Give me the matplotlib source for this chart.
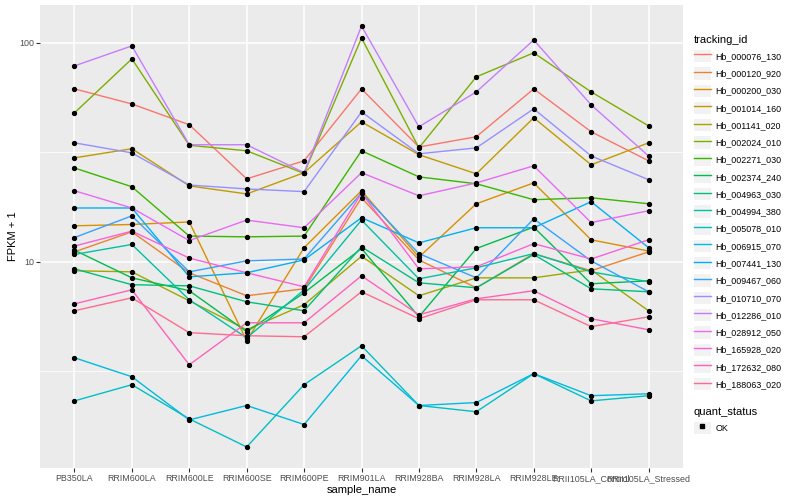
import numpy as np
import matplotlib
matplotlib.use('Agg')
import matplotlib.pyplot as plt
from matplotlib.lines import Line2D
from matplotlib.patches import Patch
from matplotlib.legend_handler import HandlerTuple
from matplotlib.ticker import FixedLocator, NullFormatter

plt.rcParams['font.family'] = ['Liberation Sans', 'DejaVu Sans']

samples = ['PB350LA', 'RRIM600LA', 'RRIM600LE', 'RRIM600SE', 'RRIM600PE',
           'RRIM901LA', 'RRIM928BA', 'RRIM928LA', 'RRIM928LE',
           'RRII105LA_Control', 'RRII105LA_Stressed']

gene_ids = ['Hb_000076_130', 'Hb_000120_920', 'Hb_000200_030', 'Hb_001014_160',
            'Hb_001141_020', 'Hb_002024_010', 'Hb_002271_030', 'Hb_002374_240',
            'Hb_004963_030', 'Hb_004994_380', 'Hb_005078_010', 'Hb_006915_070',
            'Hb_007441_130', 'Hb_009467_060', 'Hb_010710_070', 'Hb_012286_010',
            'Hb_028912_050', 'Hb_165928_020', 'Hb_172632_080', 'Hb_188063_020']

# ggplot default hue palette, 20 levels
colors = ['#F8766D', '#EA8331', '#D89000', '#C09B00', '#A3A500', '#7CAE00',
          '#39B600', '#00BB4E', '#00BF7D', '#00C1A3', '#00BFC4', '#00BAE0',
          '#00B0F6', '#35A2FF', '#9590FF', '#C77CFF', '#E76BF3', '#FA62DB',
          '#FF62BC', '#FF6C91']

# FPKM + 1 per sample
hb_000076_130 = [61.5, 52.5, 42.2, 23.9, 28.9, 61.5, 33.4, 37.2, 61.5, 39.2, 28.9]
hb_000120_920 = [11.1, 13.7, 8.91, 7.00, 7.53, 19.6, 10.2, 7.61, 10.9, 9.10, 11.1]
hb_000200_030 = [14.6, 14.8, 15.2, 4.36, 11.6, 21.1, 10.5, 18.4, 22.9, 12.6, 11.2]
hb_001014_160 = [29.8, 32.8, 22.2, 20.4, 25.5, 43.5, 30.8, 25.2, 45.4, 27.7, 34.9]
hb_001141_020 = [9.10, 9.00, 6.64, 4.90, 6.37, 10.6, 7.00, 8.45, 8.45, 9.19, 5.98]
hb_002024_010 = [47.8, 84.3, 34.0, 32.1, 25.3, 105.0, 33.1, 69.8, 89.8, 59.6, 41.7]
hb_002271_030 = [26.8, 22.0, 13.1, 13.0, 13.1, 32.1, 24.4, 22.7, 19.2, 19.6, 18.4]
hb_002374_240 = [11.3, 8.45, 7.38, 4.80, 7.22, 11.5, 5.61, 11.5, 14.4, 7.94, 8.19]
hb_004963_030 = [9.29, 7.86, 7.77, 6.57, 5.98, 11.7, 8.02, 7.61, 10.8, 7.53, 7.30]
hb_004994_380 = [10.8, 12.0, 6.71, 4.50, 7.45, 15.5, 8.36, 9.39, 10.9, 9.00, 8.11]
hb_005078_010 = [2.32, 2.75, 1.92, 1.43, 2.75, 4.14, 2.21, 2.07, 3.09, 2.32, 2.45]
hb_006915_070 = [3.65, 2.99, 1.90, 2.21, 1.81, 3.73, 2.21, 2.28, 3.09, 2.45, 2.50]
hb_007441_130 = [17.6, 17.6, 8.54, 8.91, 10.2, 15.9, 12.2, 14.3, 14.3, 18.8, 11.6]
hb_009467_060 = [12.9, 16.2, 9.00, 10.1, 10.3, 20.6, 10.9, 8.45, 15.7, 10.1, 7.30]
hb_010710_070 = [34.9, 31.4, 22.4, 21.5, 20.9, 48.3, 31.1, 33.1, 49.9, 30.4, 23.7]
hb_012286_010 = [78.3, 96.6, 34.2, 34.2, 25.5, 119.0, 41.3, 59.6, 102.8, 52.0, 30.4]
hb_028912_050 = [21.1, 17.6, 12.5, 15.5, 14.3, 25.5, 20.0, 22.9, 27.4, 15.1, 17.1]
hb_165928_020 = [11.8, 13.8, 10.4, 8.91, 7.69, 20.6, 9.29, 9.49, 12.1, 10.3, 12.6]
hb_172632_080 = [6.43, 7.45, 3.39, 5.27, 5.27, 8.63, 5.73, 6.78, 7.38, 5.50, 4.90]
hb_188063_020 = [5.98, 6.85, 4.75, 4.60, 4.55, 7.30, 5.50, 6.71, 6.71, 5.06, 5.61]

series = [hb_000076_130, hb_000120_920, hb_000200_030, hb_001014_160,
          hb_001141_020, hb_002024_010, hb_002271_030, hb_002374_240,
          hb_004963_030, hb_004994_380, hb_005078_010, hb_006915_070,
          hb_007441_130, hb_009467_060, hb_010710_070, hb_012286_010,
          hb_028912_050, hb_165928_020, hb_172632_080, hb_188063_020]

fig = plt.figure(figsize=(8, 5), dpi=100)
ax = fig.add_axes([40 / 800, 32 / 500, 643 / 800, 463 / 500])
ax.set_facecolor('#EBEBEB')
x = np.arange(1, len(samples) + 1)

for vals, c in zip(series, colors):
    ax.plot(x, vals, color=c, lw=1.0, zorder=2)
for vals in series:
    ax.plot(x, vals, 'o', color='black', ms=2.8, ls='none', zorder=3)

ax.set_yscale('log')
allv = np.log10(np.concatenate([np.array(s) for s in series]))
lo, hi = allv.min(), allv.max()
pad = (hi - lo) * 0.05
ax.set_ylim(10 ** (lo - pad), 10 ** (hi + pad))
ax.set_xlim(0.4, len(samples) + 0.6)

ax.yaxis.set_major_locator(FixedLocator([10, 100]))
ax.yaxis.set_minor_locator(FixedLocator([10 ** 0.5, 10 ** 1.5]))
ax.yaxis.set_minor_formatter(NullFormatter())
ax.set_yticklabels(['10', '100'])
ax.set_xticks(x)
ax.set_xticklabels(samples)

ax.set_axisbelow(True)
ax.grid(which='major', color='white', lw=1.1)
ax.grid(which='minor', axis='y', color='white', lw=0.55)
for s in ax.spines.values():
    s.set_visible(False)
ax.tick_params(which='major', length=2.7, width=0.8, color='#333333',
               labelsize=6.4, labelcolor='#4D4D4D', pad=1.5)
ax.tick_params(which='minor', length=0)
ax.set_xlabel('sample_name', fontsize=8, labelpad=1.5)
ax.set_ylabel('FPKM + 1', fontsize=8, labelpad=0.5)

key = dict(facecolor='#F2F2F2', edgecolor='none')
handles = [(Patch(**key), Line2D([], [], color=c, lw=1.0)) for c in colors]
common = dict(loc='upper left', frameon=False, fontsize=6.4, title_fontsize=8,
              handler_map={tuple: HandlerTuple(ndivide=1, pad=0)},
              handlelength=1.9, handleheight=1.75, labelspacing=0.56,
              handletextpad=0.5, borderpad=0, borderaxespad=0, alignment='left')
fig.legend(handles, gene_ids, title='tracking_id',
           bbox_to_anchor=(694 / 800, 1 - 35 / 500), **common)

ok_handle = [(Patch(**key), Line2D([], [], marker='s', color='black', ls='none', ms=2.2))]
fig.legend(ok_handle, ['OK'], title='quant_status',
           bbox_to_anchor=(694 / 800, 1 - 407 / 500), **common)

fig.savefig('out.png', dpi=100)
